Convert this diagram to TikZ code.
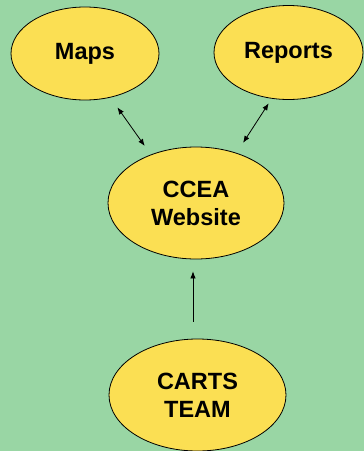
\documentclass[tikz,border=0pt]{standalone}
\usepackage{fontspec}
\setmainfont{Liberation Sans}
\usetikzlibrary{shapes.geometric,arrows.meta}
\definecolor{bggreen}{RGB}{153,214,164}
\definecolor{ovalyellow}{RGB}{251,223,83}
\begin{document}
\begin{tikzpicture}[x=1pt,y=-1pt,
  oval/.style={ellipse,draw=black,line width=0.8pt,fill=ovalyellow,inner sep=0pt,
    align=center,font=\fontsize{23.5}{28}\selectfont\bfseries},
  link/.style={line width=0.8pt,{Latex[length=7pt,width=5.5pt]}-{Latex[length=7pt,width=5.5pt]}},
  onelink/.style={line width=0.8pt,-{Latex[length=7pt,width=5.5pt]}}]
\fill[bggreen] (0,0) rectangle (364,451);
\useasboundingbox (0,0) rectangle (364,451);
\node[oval,minimum width=148pt,minimum height=93pt] (maps) at (85,53.5) {Maps};
\node[oval,minimum width=149pt,minimum height=94pt] (reports) at (288.5,52.5) {Reports};
\node[oval,minimum width=176pt,minimum height=112pt] (ccea) at (196,203) {CCEA\\Website};
\node[oval,minimum width=177pt,minimum height=112pt] (carts) at (197.5,395) {CARTS\\TEAM};
\draw[link,shorten <=12pt,shorten >=10.5pt] (maps.300) -- (ccea.133);
\draw[link,shorten <=5.5pt,shorten >=12pt] (reports.250) -- (ccea.51);
\draw[onelink,shorten <=17pt,shorten >=12pt] ([xshift=-4.5pt]carts.north) -- ([xshift=-3pt]ccea.south);
\end{tikzpicture}
\end{document}
